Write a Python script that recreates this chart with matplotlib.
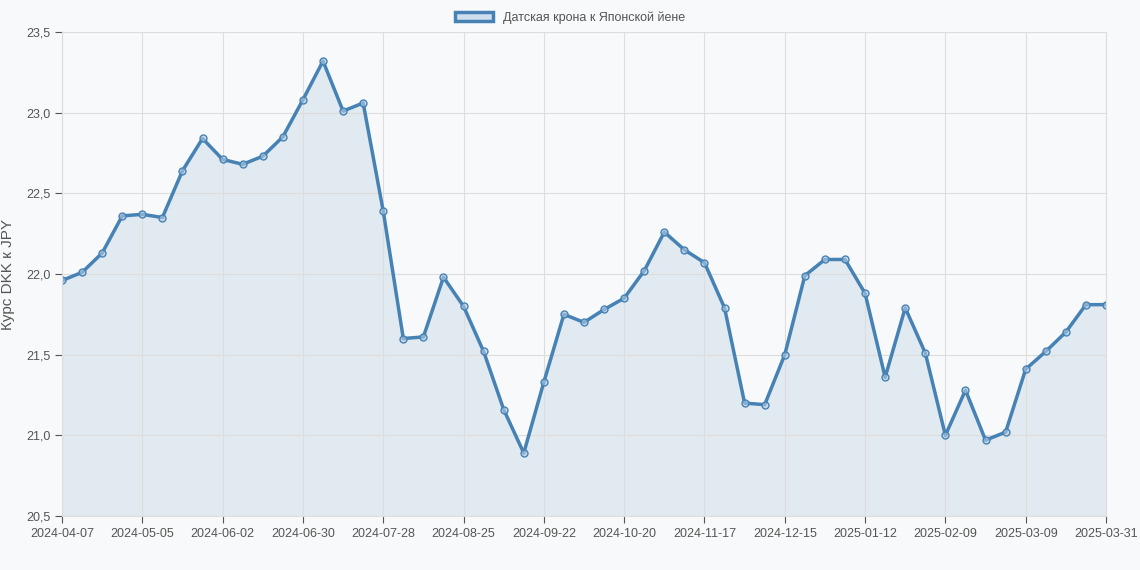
import matplotlib.pyplot as plt
import matplotlib.patches as mpatches
import numpy as np

plt.rcParams['font.family'] = ['Liberation Sans', 'DejaVu Sans']

rates = [21.96, 22.01, 22.13, 22.36, 22.37, 22.35, 22.64, 22.84, 22.71, 22.68,
         22.73, 22.85, 23.08, 23.32, 23.01, 23.06, 22.39, 21.60, 21.61, 21.98,
         21.80, 21.52, 21.16, 20.89, 21.33, 21.75, 21.70, 21.78, 21.85, 22.02,
         22.26, 22.15, 22.07, 21.79, 21.20, 21.19, 21.50, 21.99, 22.09, 22.09,
         21.88, 21.36, 21.79, 21.51, 21.00, 21.28, 20.97, 21.02, 21.41, 21.52,
         21.64, 21.81, 21.81]
tick_labels = ['2024-04-07', '2024-05-05', '2024-06-02', '2024-06-30', '2024-07-28',
               '2024-08-25', '2024-09-22', '2024-10-20', '2024-11-17', '2024-12-15',
               '2025-01-12', '2025-02-09', '2025-03-09', '2025-03-31']

line_c = '#4682b4'
bg = '#f8f9fa'
x = np.arange(len(rates))

fig = plt.figure(figsize=(11.4, 5.7), dpi=100, facecolor=bg)
ax = fig.add_axes([62/1140, 1 - 516/570, (1106-62)/1140, (516-32)/570])
ax.set_facecolor(bg)

ax.fill_between(x, rates, 20.5, color=line_c, alpha=0.12, lw=0)
ax.plot(x, rates, color=line_c, lw=2.5, marker='o', ms=5,
        mfc=(0.7, 0.8, 0.9, 0.6), mec=line_c, mew=1)

ax.set_xlim(0, len(rates) - 1)
ax.set_ylim(20.5, 23.5)
ax.set_xticks(list(range(0, len(rates) - 1, 4)) + [len(rates) - 1])
ax.set_xticklabels(tick_labels)
yt = np.arange(20.5, 23.51, 0.5)
ax.set_yticks(yt)
ax.set_yticklabels([f'{v:.1f}'.replace('.', ',') for v in yt])
ax.tick_params(colors='#555555', labelsize=9, length=5)
ax.grid(True, color='#dddddd', lw=0.8)
for s in ax.spines.values():
    s.set_color('#dddddd')
ax.set_ylabel('Курс DKK к JPY', fontsize=11, color='#555555', labelpad=8)

h = mpatches.Patch(facecolor=(0.7, 0.8, 0.9, 0.6), edgecolor=line_c, lw=2.5)
fig.legend([h], ['Датская крона к Японской йене'], loc='upper center',
           bbox_to_anchor=(0.5, 1.0), frameon=False, fontsize=9,
           labelcolor='#555555', handlelength=3)

fig.savefig('out.png', dpi=100, facecolor=bg)
